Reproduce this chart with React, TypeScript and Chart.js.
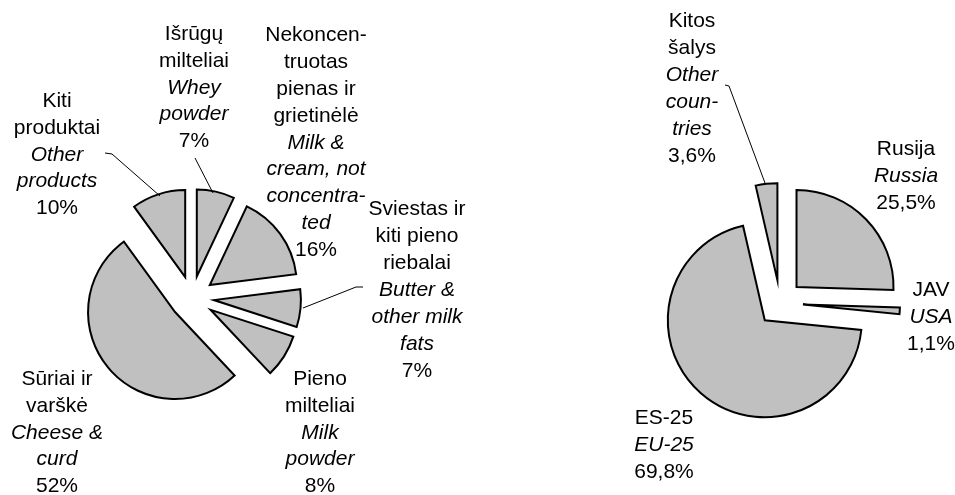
import React, { useEffect, useRef } from 'react';
import { Chart, registerables } from 'chart.js';

Chart.register(...registerables);

// ---------- DATA ----------
const productNamesLT: string[][] = [
  ['Išrūgų', 'milteliai'],
  ['Nekoncen-', 'truotas', 'pienas ir', 'grietinėlė'],
  ['Sviestas ir', 'kiti pieno', 'riebalai'],
  ['Pieno', 'milteliai'],
  ['Sūriai ir', 'varškė'],
  ['Kiti', 'produktai'],
];
const productNamesEN: string[][] = [
  ['Whey', 'powder'],
  ['Milk &', 'cream, not', 'concentra-', 'ted'],
  ['Butter &', 'other milk', 'fats'],
  ['Milk', 'powder'],
  ['Cheese &', 'curd'],
  ['Other', 'products'],
];
const productShares: number[] = [7, 16, 7, 8, 52, 10];

const countryNamesLT: string[][] = [['Rusija'], ['JAV'], ['ES-25'], ['Kitos', 'šalys']];
const countryNamesEN: string[][] = [['Russia'], ['USA'], ['EU-25'], ['Other', 'coun-', 'tries']];
const countryShares: number[] = [25.5, 1.1, 69.8, 3.6];

// ---------- LAYOUT ----------
type Pt = [number, number];
interface PieCfg {
  left: number; w: number; h: number;
  padding: { left: number; right: number; top: number; bottom: number };
  radius: number; explode: number;
  namesLT: string[][]; namesEN: string[][]; values: number[];
  fmt: (v: number) => string;
  labelCenters: Pt[]; // block centre relative to pie centre
  leaders: Pt[][];    // polylines relative to pie centre
}

const FONT = '"Liberation Sans", Arial, sans-serif';
const FONT_SIZE = 21;
const LINE_H = 26.9;

const leftCfg: PieCfg = {
  left: 0, w: 480, h: 495,
  padding: { left: 0, right: 96, top: 101, bottom: 0 },
  radius: 87, explode: 22,
  namesLT: productNamesLT, namesEN: productNamesEN, values: productShares,
  fmt: (v) => `${v}%`,
  labelCenters: [[2, -211.5], [124, -156.5], [225, -9], [128, 133.5], [-135, 133.5], [-135, -144.5]],
  leaders: [
    [[-87, -145], [-80, -144], [-32, -102]],
    [[3, -140], [21, -105]],
    [[171, -11], [164, -11], [111, 10]],
  ],
};

const rightCfg: PieCfg = {
  left: 480, w: 475, h: 495,
  padding: { left: 125, right: 0, top: 111, bottom: 0 },
  radius: 97, explode: 23,
  namesLT: countryNamesLT, namesEN: countryNamesEN, values: countryShares,
  fmt: (v) => `${v.toFixed(1).replace('.', ',')}%`,
  labelCenters: [[126, -128], [151, 13], [-116, 141], [-88, -215.5]],
  leaders: [[[-55, -218], [-51, -217], [-15, -120]]],
};

// ---------- PLUGINS ----------
const explodePlugin = (dist: number) => ({
  id: 'explodeSlices',
  beforeDatasetsDraw(chart: any) {
    chart.getDatasetMeta(0).data.forEach((arc: any) => {
      const mid = (arc.startAngle + arc.endAngle) / 2;
      arc.x += Math.cos(mid) * dist;
      arc.y += Math.sin(mid) * dist;
    });
  },
  afterDatasetsDraw(chart: any) {
    chart.getDatasetMeta(0).data.forEach((arc: any) => {
      const mid = (arc.startAngle + arc.endAngle) / 2;
      arc.x -= Math.cos(mid) * dist;
      arc.y -= Math.sin(mid) * dist;
    });
  },
});

const labelPlugin = (cfg: PieCfg) => ({
  id: 'outerLabels',
  afterDraw(chart: any) {
    const ctx: CanvasRenderingContext2D = chart.ctx;
    const arc0 = chart.getDatasetMeta(0).data[0];
    const cx = arc0.x;
    const cy = arc0.y;
    ctx.save();
    // leader lines
    ctx.strokeStyle = '#000';
    ctx.lineWidth = 1;
    cfg.leaders.forEach((pl) => {
      ctx.beginPath();
      pl.forEach(([x, y], i) => {
        if (i === 0) ctx.moveTo(cx + x, cy + y);
        else ctx.lineTo(cx + x, cy + y);
      });
      ctx.stroke();
    });
    // labels
    ctx.fillStyle = '#000';
    ctx.textAlign = 'center';
    ctx.textBaseline = 'alphabetic';
    cfg.values.forEach((v, i) => {
      const lines: { t: string; it: boolean }[] = [
        ...cfg.namesLT[i].map((t) => ({ t, it: false })),
        ...cfg.namesEN[i].map((t) => ({ t, it: true })),
        { t: cfg.fmt(v), it: false },
      ];
      const [dx, dy] = cfg.labelCenters[i];
      const bx = cx + dx;
      const firstY = cy + dy - ((lines.length - 1) / 2) * LINE_H;
      lines.forEach((ln, k) => {
        ctx.font = `${ln.it ? 'italic ' : ''}${FONT_SIZE}px ${FONT}`;
        ctx.fillText(ln.t, bx, firstY + k * LINE_H + 7);
      });
    });
    ctx.restore();
  },
});

function PieCanvas({ cfg }: { cfg: PieCfg }) {
  const ref = useRef<HTMLCanvasElement>(null);
  useEffect(() => {
    const chart = new Chart(ref.current as HTMLCanvasElement, {
      type: 'pie',
      data: {
        labels: cfg.namesLT.map((n) => n.join(' ')),
        datasets: [
          {
            data: cfg.values,
            backgroundColor: '#C0C0C0',
            borderColor: '#000000',
            borderWidth: 2,
            borderJoinStyle: 'miter',
            radius: cfg.radius,
          } as any,
        ],
      },
      options: {
        responsive: false,
        animation: false,
        events: [],
        radius: cfg.radius,
        layout: { padding: cfg.padding },
        plugins: { legend: { display: false }, tooltip: { enabled: false } },
      } as any,
      plugins: [explodePlugin(cfg.explode), labelPlugin(cfg)],
    });
    return () => chart.destroy();
  }, [cfg]);
  return (
    <canvas
      ref={ref}
      width={cfg.w}
      height={cfg.h}
      style={{ position: 'absolute', left: cfg.left, top: 0, width: cfg.w, height: cfg.h }}
    />
  );
}

export default function App() {
  return (
    <div style={{ position: 'fixed', left: 0, top: 0, width: 955, height: 495, background: '#fff' }}>
      <PieCanvas cfg={leftCfg} />
      <PieCanvas cfg={rightCfg} />
    </div>
  );
}
